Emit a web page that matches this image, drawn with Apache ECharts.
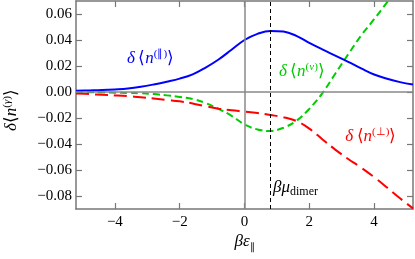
<!DOCTYPE html>
<html><head><meta charset="utf-8">
<script src="https://cdn.jsdelivr.net/npm/echarts@6/dist/echarts.min.js"></script>
<style>html,body{margin:0;padding:0;background:#fff}#c{width:415px;height:259px}</style>
</head><body><div id="c"></div>
<script>
const xs = [-5.2,-4.8,-4.4,-4.0,-3.6,-3.2,-2.8,-2.4,-2.0,-1.6,-1.2,-0.8,-0.4,0,0.4,0.8,1.2,1.6,2.0,2.4,2.8,3.2,3.6,4.0,4.4,4.8,5.2];
const parallel = [0.0009,0.0012,0.0015,0.0020,0.0027,0.0040,0.0058,0.0079,0.0103,0.0136,0.0188,0.0250,0.0325,0.0400,0.0447,0.0470,0.0465,0.0432,0.0378,0.0328,0.0280,0.0232,0.0182,0.0135,0.0102,0.0076,0.0057];
const nu = [0.0000,-0.0002,-0.0003,-0.0005,-0.0007,-0.0010,-0.0016,-0.0026,-0.0038,-0.0054,-0.0085,-0.0130,-0.0183,-0.0250,-0.0288,-0.0300,-0.0275,-0.0222,-0.0130,-0.0010,0.0140,0.0290,0.0435,0.0560,0.0690,0.0820,0.0950];
const perp = [-0.0011,-0.0016,-0.0021,-0.0026,-0.0032,-0.0040,-0.0050,-0.0061,-0.0072,-0.0088,-0.0110,-0.0128,-0.0141,-0.0151,-0.0162,-0.0177,-0.0194,-0.0223,-0.0282,-0.0363,-0.0443,-0.0515,-0.0582,-0.0655,-0.0735,-0.0818,-0.0895];
const xTicks = [-4,-2,0,2,4];
const yTicks = [-0.08,-0.06,-0.04,-0.02,0,0.02,0.04,0.06];
const muDimer = 0.8;

const pair = a => xs.map((x,i)=>[x,a[i]]);
const fmtX = v => (v<0?'\u2212':'') + Math.abs(v);
const fmtY = v => (v<0?'\u2212':'') + Math.abs(v).toFixed(2);
const F = 'Liberation Serif';
const axisCol = '#777';
const chart = echarts.init(document.getElementById('c'));
const baseX = {type:'value', min:-5.2, max:5.2,
  axisLine:{show:true,onZero:false,lineStyle:{color:axisCol,width:1.5}},
  axisTick:{show:true,inside:true,length:6,customValues:xTicks,lineStyle:{color:axisCol,width:1.2}},
  axisLabel:{show:false}, splitLine:{show:false}};
const baseY = {type:'value', min:-0.09, max:0.07,
  axisLine:{show:true,onZero:false,lineStyle:{color:axisCol,width:1.5}},
  axisTick:{show:true,inside:true,length:6,customValues:yTicks,lineStyle:{color:axisCol,width:1.2}},
  axisLabel:{show:false}, splitLine:{show:false}};
chart.setOption({
  animation:false,
  textStyle:{fontFamily:F},
  grid:{left:76,right:2,top:1,bottom:50,outerBoundsMode:'none',containLabel:false},
  xAxis:[Object.assign({}, baseX, {position:'bottom',
           axisLabel:{show:true,customValues:xTicks,formatter:fmtX,fontFamily:F,fontSize:15,color:'#000',margin:6}}),
         Object.assign({}, baseX, {position:'top'})],
  yAxis:[Object.assign({}, baseY, {position:'left',
           axisLabel:{show:true,customValues:yTicks,formatter:fmtY,fontFamily:F,fontSize:15,color:'#000',margin:4}}),
         Object.assign({}, baseY, {position:'right'})],
  series:[
    {type:'line', data:pair(parallel), smooth:0.4, showSymbol:false, symbol:'none',
      lineStyle:{color:'#0000ff',width:2}, z:3,
      markLine:{silent:true, symbol:'none', label:{show:false},
        data:[{xAxis:0, lineStyle:{color:'#888',width:1.5,type:'solid'}},
              {yAxis:0, lineStyle:{color:'#888',width:1.5,type:'solid'}},
              {xAxis:muDimer, lineStyle:{color:'#000',width:1,type:[4,3]}}]}},
    {type:'line', data:pair(nu), smooth:0.4, showSymbol:false, symbol:'none',
      lineStyle:{color:'#00cc00',width:2,type:[7,4]}, z:2},
    {type:'line', data:pair(perp), smooth:0.4, showSymbol:false, symbol:'none',
      lineStyle:{color:'#ff0000',width:2,type:[13,6]}, z:2}
  ]
});

// annotation text placed through the axes' scales
const px = (x,y) => chart.convertToPixel({xAxisIndex:0,yAxisIndex:0},[x,y]);
const g = [];
const R = (col) => ({
  d:{fontFamily:F,fontStyle:'italic',fontSize:17,fill:col},
  b:{fontFamily:F,fontSize:17,fill:col},
  n:{fontFamily:F,fontStyle:'italic',fontSize:17,fill:col},
  s:{fontFamily:F,fontSize:11,fill:col,verticalAlign:'top',lineHeight:20},
  si:{fontFamily:F,fontStyle:'italic',fontSize:11,fill:col,verticalAlign:'top',lineHeight:20},
  sub:{fontFamily:F,fontSize:12,fill:col,verticalAlign:'bottom',lineHeight:20},
  subs:{fontFamily:F,fontSize:10,fill:col,verticalAlign:'bottom',lineHeight:20}
});
function note(x,y,text,col,align){
  const p = px(x,y);
  g.push({type:'text', x:p[0], y:p[1], silent:true,
    style:{text, rich:R(col), align:align||'center', verticalAlign:'middle', fill:col}});
}
note(-2.9,0.026,'{d|\u03b4} {b|\u27e8}{n|n}{s|(\u2225)}{b|\u27e9}','#0000ff');
note(1.77,0.0154,'{d|\u03b4} {b|\u27e8}{n|n}{s|(}{si|\u03bd}{s|)}{b|\u27e9}','#00cc00');
note(3.9,-0.0346,'{d|\u03b4} {b|\u27e8}{n|n}{s|(\u22a5)}{b|\u27e9}','#ff0000');
note(0.88,-0.0735,'{d|\u03b2\u03bc}{sub|dimer}','#000','left');
// axis titles
const xb = px(0,-0.09);
g.push({type:'text', x:xb[0], y:242, silent:true,
  style:{text:'{d|\u03b2\u03b5}{subs|\u2225}', rich:R('#000'), align:'center', verticalAlign:'middle'}});
const yc = px(-5.2,-0.01);
g.push({type:'text', x:12, y:yc[1]+5, rotation:Math.PI/2, silent:true,
  style:{text:'{d|\u03b4}{b|\u27e8}{n|n}{s|(}{si|\u03b3}{s|)}{b|\u27e9}', rich:R('#000'), align:'center', verticalAlign:'middle'}});
chart.setOption({graphic:g});
</script></body></html>
